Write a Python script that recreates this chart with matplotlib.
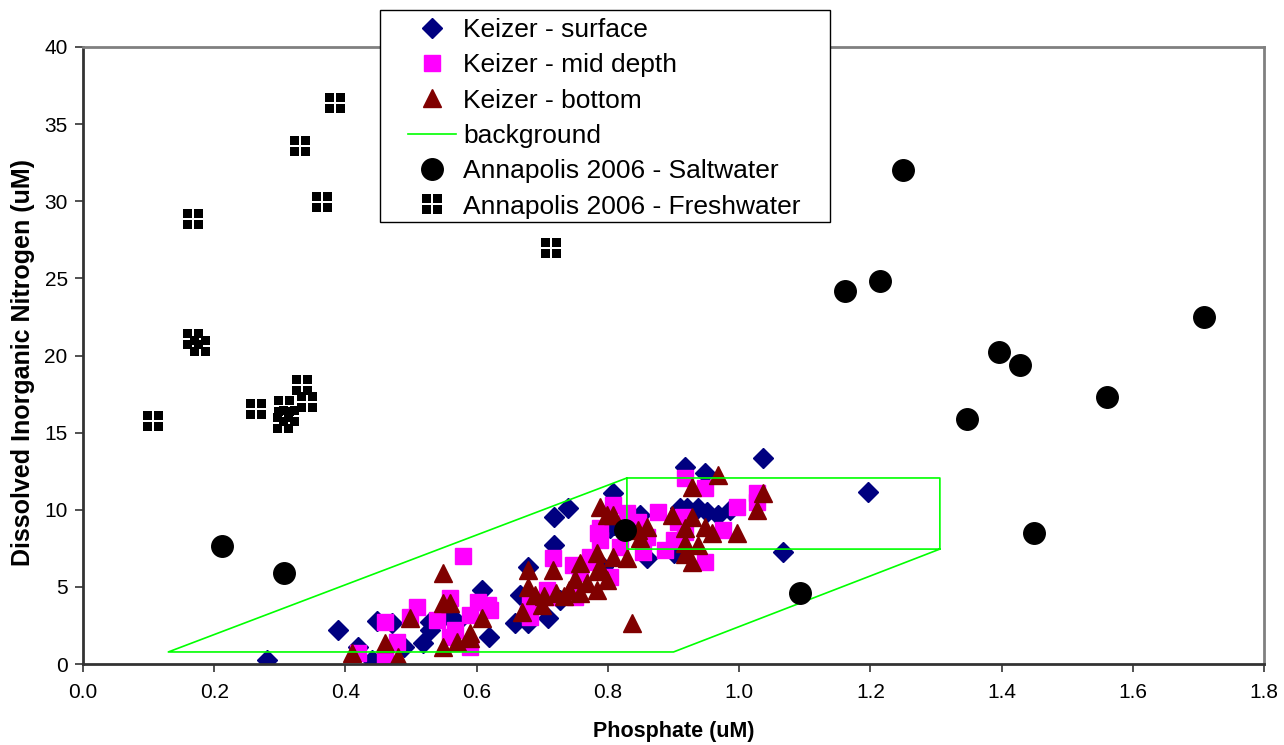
import matplotlib
matplotlib.use("Agg")
import matplotlib.pyplot as plt
from matplotlib.path import Path
from matplotlib.patches import Rectangle
import numpy as np

plt.rcParams['font.family'] = ['Liberation Sans', 'DejaVu Sans']

# ---------------- data ----------------
surface_x = [0.28, 0.389, 0.419, 0.44, 0.448, 0.47, 0.471, 0.49, 0.518, 0.529, 0.529, 0.559,
             0.57, 0.608, 0.619, 0.658, 0.666, 0.678, 0.678, 0.709, 0.718, 0.718, 0.739, 0.727,
             0.793, 0.808, 0.849, 0.91, 0.92, 0.937, 0.951, 0.968, 0.986, 0.803, 0.86, 0.9,
             1.067, 0.918, 0.948, 1.037, 1.196, 0.81]
surface_y = [0.25, 2.2, 1.1, 0.26, 2.8, 0.0, 2.65, 1.1, 1.35, 2.2, 2.7, 3.0,
             2.7, 4.8, 1.75, 2.65, 4.5, 6.3, 2.65, 3.0, 7.7, 9.5, 10.1, 4.15,
             6.3, 11.1, 9.65, 10.1, 10.1, 10.1, 9.85, 9.65, 10.0, 8.8, 6.9, 7.2,
             7.25, 12.8, 12.4, 13.35, 11.15, 9.0]

mid_x = [0.419, 0.46, 0.46, 0.478, 0.498, 0.509, 0.539, 0.559, 0.567, 0.559, 0.579, 0.59,
         0.59, 0.602, 0.617, 0.62, 0.681, 0.681, 0.709, 0.716, 0.747, 0.707, 0.773, 0.785,
         0.678, 0.75, 0.758, 0.777, 0.803, 0.788, 0.788, 0.808, 0.829, 0.876, 0.915, 0.907,
         0.846, 0.86, 0.975, 0.918, 0.9, 0.887, 0.948, 0.853, 0.818, 0.918, 0.948, 1.027,
         1.027, 0.997]
mid_y = [0.7, 2.7, 0.4, 1.45, 3.05, 3.7, 2.85, 4.3, 2.2, 1.75, 7.0, 3.2,
         1.1, 4.0, 3.8, 3.5, 3.9, 3.05, 4.35, 6.9, 6.4, 4.8, 6.95, 8.5,
         3.3, 4.35, 5.9, 6.6, 5.65, 8.8, 8.05, 10.3, 9.8, 9.85, 9.55, 9.2,
         9.2, 8.25, 8.7, 8.55, 8.05, 7.4, 6.6, 7.25, 7.6, 12.05, 11.4, 11.1,
         10.5, 10.2]

bottom_x = [0.41, 0.46, 0.48, 0.498, 0.549, 0.549, 0.559, 0.549, 0.57, 0.59, 0.59, 0.608,
            0.669, 0.678, 0.678, 0.689, 0.7, 0.703, 0.716, 0.721, 0.733, 0.74, 0.75, 0.758,
            0.758, 0.768, 0.784, 0.784, 0.798, 0.784, 0.808, 0.829, 0.788, 0.788, 0.808, 0.798,
            0.837, 0.897, 0.928, 0.86, 0.846, 0.948, 0.959, 0.997, 0.918, 0.849, 0.918, 0.937,
            0.918, 0.928, 0.968, 0.928, 1.037, 1.027]
bottom_y = [0.7, 1.35, 0.45, 3.0, 5.9, 3.95, 3.95, 1.1, 1.45, 2.0, 1.7, 3.0,
            3.35, 6.1, 5.0, 4.5, 3.8, 4.4, 6.1, 4.6, 4.4, 4.8, 5.5, 6.55,
            4.6, 5.25, 6.0, 4.8, 5.45, 7.2, 6.95, 6.9, 6.3, 10.2, 9.65, 9.65,
            2.65, 9.65, 9.55, 8.9, 8.7, 8.9, 8.5, 8.5, 8.8, 8.15, 7.85, 7.7,
            7.1, 6.6, 12.25, 11.5, 11.1, 10.0]

background_x = [1.306, 0.90, 0.13, 0.829, 1.306, 1.306, 0.829, 0.829]
background_y = [7.45, 0.78, 0.78, 12.06, 12.06, 7.45, 7.45, 12.06]

salt_x = [0.212, 0.306, 0.826, 1.093, 1.25, 1.161, 1.215, 1.347, 1.396, 1.428, 1.561, 1.450, 1.709]
salt_y = [7.65, 5.9, 8.7, 4.6, 32.0, 24.2, 24.8, 15.9, 20.2, 19.4, 17.3, 8.5, 22.5]

fresh_x = [0.384, 0.331, 0.364, 0.168, 0.713, 0.168, 0.178, 0.107, 0.264, 0.334, 0.341,
           0.306, 0.314, 0.305]
fresh_y = [36.4, 33.6, 29.95, 28.85, 27.0, 21.05, 20.6, 15.75, 16.5, 18.1, 17.0,
           16.7, 16.1, 15.6]

x_ticks = [0.0, 0.2, 0.4, 0.6, 0.8, 1.0, 1.2, 1.4, 1.6, 1.8]
y_ticks = [0, 5, 10, 15, 20, 25, 30, 35, 40]

# ---------------- custom marker: square split in four ----------------
g = 0.08
verts, codes = [], []
for (x0, x1) in [(-1, -g), (g, 1)]:
    for (y0, y1) in [(-1, -g), (g, 1)]:
        verts += [(x0, y0), (x1, y0), (x1, y1), (x0, y1), (x0, y0)]
        codes += [Path.MOVETO, Path.LINETO, Path.LINETO, Path.LINETO, Path.CLOSEPOLY]
split_square = Path(verts, codes)

# ---------------- figure ----------------
W, H = 1284, 745
fig = plt.figure(figsize=(W/100, H/100), dpi=100)
ax = fig.add_axes([83/W, 1-664/H, (1264-83)/W, (664-47)/H])

ax.plot(surface_x, surface_y, linestyle='none', marker='D', ms=10, color='#000080',
        mec='#000080', label='Keizer - surface')
ax.plot(mid_x, mid_y, linestyle='none', marker='s', ms=12, color='#FF00FF',
        mec='#FF00FF', label='Keizer - mid depth')
ax.plot(bottom_x, bottom_y, linestyle='none', marker='^', ms=13, color='#800000',
        mec='#800000', label='Keizer - bottom')
ax.plot(background_x, background_y, color='#00FF00', lw=1.2, label='background')
ax.plot(salt_x, salt_y, linestyle='none', marker='o', ms=15.5, color='black',
        label='Annapolis 2006 - Saltwater')
ax.plot(fresh_x, fresh_y, linestyle='none', marker=split_square, ms=14, color='black',
        mew=0, label='Annapolis 2006 - Freshwater')

ax.set_xlim(0, 1.8)
ax.set_ylim(0, 40)
ax.set_xticks(x_ticks)
ax.set_xticklabels([f"{v:.1f}" for v in x_ticks])
ax.set_yticks(y_ticks)
ax.set_yticklabels([str(v) for v in y_ticks])
ax.tick_params(axis='x', direction='out', length=6, width=1.2, color='#333333',
               labelsize=15, pad=8)
ax.tick_params(axis='y', direction='out', length=6, width=1.2, color='#333333',
               labelsize=15, pad=5)

for s in ['left', 'bottom']:
    ax.spines[s].set_color('#333333')
    ax.spines[s].set_linewidth(2)
for s in ['top', 'right']:
    ax.spines[s].set_color('#808080')
    ax.spines[s].set_linewidth(2)

ax.set_xlabel('Phosphate (uM)', fontsize=15.5, fontweight='bold', labelpad=13)
ax.set_ylabel('Dissolved Inorganic Nitrogen (uM)', fontsize=18, fontweight='bold', labelpad=9)
ax.yaxis.set_label_coords(-48/(1264-83), (664-362)/(664-47))

# legend: frameless legend + separate frame rectangle
fs = 19
leg = fig.legend(loc='upper left', bbox_to_anchor=(408/W, 1-18/H),
                 fontsize=fs, frameon=False, borderpad=0, labelspacing=0.43,
                 handlelength=1.82, handletextpad=0.27, borderaxespad=0)
frame = Rectangle((380/W, 1-222/H), (830-380)/W, (222-10)/H, transform=fig.transFigure,
                  facecolor='white', edgecolor='black', linewidth=1.0, zorder=4)
fig.patches.append(frame)
leg.set_zorder(5)

fig.savefig('out.png', dpi=100)
